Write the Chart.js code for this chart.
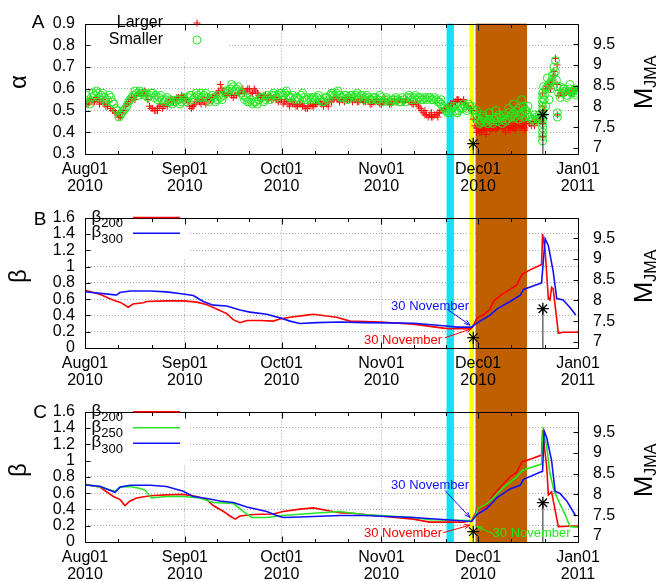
<!DOCTYPE html>
<html>
<head>
<meta charset="utf-8">
<script src="https://cdn.jsdelivr.net/npm/chart.js@4.4.1/dist/chart.umd.min.js"></script>
<style>
  body { margin: 0; background: #fff; }
  canvas { position: absolute; left: 0; }
</style>
</head>
<body>
<canvas id="chartA" width="664" height="194" style="top:0"></canvas>
<canvas id="chartB" width="664" height="194" style="top:194px"></canvas>
<canvas id="chartC" width="664" height="193" style="top:388px"></canvas>
<script>
// x values are days since 2010-08-01
const monthDays = [0, 31, 61, 92, 122, 153];
const monthLabels = [['Aug01', '2010'], ['Sep01', '2010'], ['Oct01', '2010'], ['Nov01', '2010'], ['Dec01', '2010'], ['Jan01', '2011']];
const minorDays = [10.3, 20.7, 41, 51, 71.3, 81.7, 102, 112, 132.3, 142.7];
const alphaTicks = [0.3, 0.4, 0.5, 0.6, 0.7, 0.8, 0.9];
const betaTicks = [0, 0.2, 0.4, 0.6, 0.8, 1, 1.2, 1.4, 1.6];
const mTicks = [7, 7.5, 8, 8.5, 9, 9.5];

// shaded periods
const bandStart = [112.2, 119.3, 121.2];
const bandEnd = [114.5, 120.7, 137.2];

// earthquakes (M_JMA)
const quakeDays = [120.5, 142.1];
const quakeMag = [7.1, 7.8];

// panel A: alpha, one value per day (index = day)
const alphaLarger = [
  0.54, 0.53, 0.55, 0.54, 0.55, 0.54, 0.53, 0.52, 0.51, 0.50,
  0.48, 0.47, 0.50, 0.53, 0.55, 0.56, 0.57, 0.58, 0.58, 0.57,
  0.52, 0.51, 0.50, 0.52, 0.51, 0.53, 0.54, 0.55, 0.55, 0.56,
  0.57, 0.56, 0.54, 0.51, 0.53, 0.55, 0.53, 0.54, 0.56, 0.55,
  0.56, 0.58, 0.62, 0.58, 0.57, 0.58, 0.56, 0.57, 0.58, 0.60,
  0.59, 0.60, 0.58, 0.59, 0.57, 0.56, 0.57, 0.56, 0.55, 0.56,
  0.54, 0.55, 0.54, 0.53, 0.54, 0.53, 0.52, 0.53, 0.52, 0.51,
  0.53, 0.52, 0.53, 0.54, 0.52, 0.53, 0.55, 0.55, 0.56, 0.54,
  0.55, 0.56, 0.55, 0.54, 0.55, 0.54, 0.55, 0.54, 0.55, 0.53,
  0.54, 0.54, 0.53, 0.55, 0.54, 0.53, 0.55, 0.54, 0.55, 0.54,
  0.55, 0.54, 0.53, 0.53, 0.51, 0.49, 0.48, 0.48, 0.47, 0.48,
  0.49, 0.50, 0.51, 0.52, 0.53, 0.54, 0.55, 0.54, 0.53, 0.52,
  0.50, 0.43, 0.41, 0.40, 0.42, 0.43, 0.41, 0.43, 0.42, 0.43,
  0.42, 0.44, 0.41, 0.42, 0.43, 0.42, 0.43, 0.44, 0.44, 0.45,
  0.45, 0.46, 0.48, 0.60, 0.62, 0.64, 0.74, 0.57, 0.58, 0.58,
  0.59, 0.58, 0.59, 0.60
];
// alpha at half days (index i = day i + 0.5)
const alphaLargerHalf = [
  0.53, 0.55, 0.54, 0.56, 0.53, 0.55, 0.52, 0.54, 0.50, 0.49,
  0.47, 0.49, 0.52, 0.54, 0.56, 0.55, 0.58, 0.57, 0.59, 0.55,
  0.51, 0.50, 0.51, 0.53, 0.52, 0.52, 0.55, 0.54, 0.56, 0.55,
  0.56, 0.55, 0.52, 0.52, 0.54, 0.54, 0.55, 0.53, 0.55, 0.56,
  0.57, 0.59, 0.59, 0.57, 0.58, 0.57, 0.57, 0.58, 0.59, 0.58,
  0.60, 0.58, 0.60, 0.58, 0.56, 0.57, 0.55, 0.57, 0.56, 0.55,
  0.55, 0.53, 0.55, 0.52, 0.53, 0.52, 0.53, 0.52, 0.51, 0.52,
  0.52, 0.53, 0.54, 0.53, 0.54, 0.52, 0.54, 0.56, 0.55, 0.55,
  0.54, 0.55, 0.56, 0.55, 0.54, 0.55, 0.54, 0.55, 0.53, 0.54,
  0.55, 0.53, 0.54, 0.54, 0.53, 0.54, 0.54, 0.55, 0.54, 0.55,
  0.54, 0.53, 0.54, 0.52, 0.50, 0.48, 0.47, 0.49, 0.48, 0.47,
  0.50, 0.51, 0.52, 0.53, 0.54, 0.55, 0.54, 0.55, 0.52, 0.51,
  0.46, 0.42, 0.40, 0.41, 0.41, 0.42, 0.42, 0.41, 0.43, 0.42,
  0.43, 0.42, 0.43, 0.41, 0.44, 0.43, 0.42, 0.45, 0.43, 0.44,
  0.46, 0.45, 0.50, 0.61, 0.63, 0.68, 0.62, 0.58, 0.57, 0.59,
  0.58, 0.60, 0.59
];
const alphaSmaller = [
  0.55, 0.54, 0.56, 0.57, 0.58, 0.57, 0.56, 0.55, 0.56, 0.53,
  0.50, 0.48, 0.50, 0.52, 0.55, 0.57, 0.58, 0.59, 0.58, 0.58,
  0.57, 0.58, 0.57, 0.56, 0.55, 0.55, 0.54, 0.53, 0.54, 0.55,
  0.54, 0.55, 0.56, 0.57, 0.56, 0.57, 0.58, 0.57, 0.56, 0.55,
  0.56, 0.55, 0.56, 0.57, 0.58, 0.60, 0.61, 0.60, 0.59, 0.57,
  0.56, 0.54, 0.53, 0.54, 0.55, 0.56, 0.55, 0.56, 0.57, 0.57,
  0.57, 0.58, 0.58, 0.57, 0.56, 0.55, 0.56, 0.57, 0.56, 0.55,
  0.55, 0.56, 0.56, 0.55, 0.54, 0.56, 0.57, 0.58, 0.58, 0.57,
  0.56, 0.57, 0.56, 0.57, 0.57, 0.56, 0.57, 0.56, 0.56, 0.55,
  0.56, 0.55, 0.56, 0.55, 0.55, 0.54, 0.55, 0.55, 0.54, 0.55,
  0.56, 0.56, 0.56, 0.55, 0.56, 0.55, 0.55, 0.56, 0.55, 0.55,
  0.54, 0.52, 0.50, 0.49, 0.51, 0.50, 0.50, 0.51, 0.52, 0.53,
  0.52, 0.47, 0.46, 0.45, 0.46, 0.44, 0.45, 0.46, 0.45, 0.47,
  0.48, 0.46, 0.47, 0.49, 0.50, 0.48, 0.52, 0.50, 0.47, 0.46,
  0.47, 0.48, 0.50, 0.60, 0.62, 0.64, 0.73, 0.58, 0.58, 0.59,
  0.59, 0.58, 0.60, 0.59
];
const alphaSmallerHalf = [
  0.57, 0.53, 0.58, 0.59, 0.56, 0.58, 0.54, 0.57, 0.54, 0.51,
  0.47, 0.49, 0.51, 0.54, 0.56, 0.59, 0.57, 0.58, 0.57, 0.56,
  0.58, 0.56, 0.55, 0.57, 0.54, 0.56, 0.55, 0.54, 0.55, 0.53,
  0.56, 0.54, 0.57, 0.55, 0.58, 0.56, 0.56, 0.58, 0.54, 0.57,
  0.54, 0.57, 0.55, 0.59, 0.59, 0.62, 0.59, 0.61, 0.58, 0.55,
  0.54, 0.55, 0.54, 0.53, 0.56, 0.54, 0.57, 0.55, 0.58, 0.56,
  0.58, 0.57, 0.59, 0.56, 0.57, 0.56, 0.55, 0.58, 0.55, 0.56,
  0.56, 0.55, 0.57, 0.54, 0.56, 0.55, 0.58, 0.57, 0.59, 0.56,
  0.57, 0.55, 0.57, 0.56, 0.58, 0.57, 0.55, 0.57, 0.55, 0.56,
  0.55, 0.57, 0.54, 0.56, 0.54, 0.55, 0.56, 0.54, 0.56, 0.54,
  0.57, 0.55, 0.57, 0.56, 0.55, 0.56, 0.56, 0.55, 0.56, 0.54,
  0.53, 0.51, 0.49, 0.50, 0.52, 0.49, 0.51, 0.53, 0.51, 0.52,
  0.50, 0.48, 0.44, 0.47, 0.45, 0.46, 0.44, 0.47, 0.48, 0.46,
  0.45, 0.49, 0.48, 0.47, 0.51, 0.49, 0.50, 0.48, 0.46, 0.48,
  0.46, 0.47, 0.55, 0.61, 0.60, 0.67, 0.61, 0.56, 0.60, 0.57,
  0.60, 0.59, 0.58
];
// extra scattered alpha points
const largerExtraDays = [22.5, 33.5, 42.5, 105.5, 107.5, 109.5, 113.5, 115.5, 121.5, 124.5, 127.5, 130.5, 133.5, 136.5, 139.5,
  142, 142, 142, 142, 144.5, 145.5, 146.5, 146.6];
const largerExtraAlpha = [0.50, 0.52, 0.60, 0.50, 0.47, 0.49, 0.53, 0.55, 0.40, 0.39, 0.44, 0.40, 0.44, 0.41, 0.43,
  0.38, 0.44, 0.52, 0.58, 0.60, 0.66, 0.71, 0.48];
const smallerExtraDays = [110.5, 112.5, 113.5, 115.5, 116.5, 118.5, 121.5, 123.5, 125.5, 127.5, 129.5, 131.5, 133, 134.5,
  135.5, 136.5, 137.5, 139.5, 142, 142, 142, 142, 142, 142, 142, 142, 142, 142, 142, 142.3, 142.6, 143, 143.5, 144,
  144.5, 145, 145.5, 146, 146.3, 146.6, 146.6, 147.5, 148.5, 149.5, 150.5, 151.5, 152.5];
const smallerExtraAlpha = [0.55, 0.51, 0.52, 0.49, 0.52, 0.50, 0.50, 0.48, 0.49, 0.50, 0.44, 0.51, 0.53, 0.46,
  0.55, 0.47, 0.52, 0.45, 0.36, 0.38, 0.40, 0.42, 0.44, 0.46, 0.48, 0.52, 0.54, 0.56, 0.58, 0.61, 0.57, 0.52, 0.65, 0.55,
  0.63, 0.66, 0.70, 0.68, 0.64, 0.49, 0.47, 0.61, 0.60, 0.56, 0.62, 0.59, 0.57];

// panel B
const b200Days = [0, 4.6, 7.4, 9.3, 11, 13.4, 14.9, 18.1, 19.1, 25.3, 30.5, 34.7, 37.7, 40.8, 44, 46, 48.1, 50.2, 54.3, 58.4,
  60.5, 63.6, 68.8, 70.9, 75, 78.1, 82.2, 91.6, 101.9, 111.2, 113.3, 119.5, 120.3, 121.6, 123.6, 125.7, 126.7, 128.8,
  131.9, 134, 135.6, 138.1, 141.2, 141.7, 142, 142.8, 143.8, 144.3, 144.8, 145.3, 146.9, 148.4, 153];
const b200 = [0.71, 0.66, 0.61, 0.58, 0.56, 0.50, 0.54, 0.555, 0.57, 0.578, 0.578, 0.563, 0.533, 0.478, 0.422, 0.348, 0.311,
  0.337, 0.337, 0.33, 0.356, 0.378, 0.404, 0.415, 0.393, 0.378, 0.33, 0.319, 0.293, 0.244, 0.237, 0.237, 0.256, 0.367,
  0.404, 0.478, 0.57, 0.644, 0.719, 0.774, 0.904, 0.959, 1.015, 1.026, 1.40, 1.2, 0.607, 0.59, 0.744, 0.726, 0.181, 0.193,
  0.193];
const b300Days = [0, 9.3, 9.8, 10.8, 14, 20.2, 25.3, 30.5, 33.6, 36.7, 39.8, 44, 48.1, 51.2, 56.4, 60.5, 63.6, 66.7, 71.9,
  79.1, 86.4, 101.9, 111.2, 115.4, 120, 120.5, 122.6, 125.7, 127.8, 131.9, 135, 136.1, 141.2, 141.7, 142.8, 143.8, 145.3,
  146.4, 148.4, 150.5, 152.3];
const b300 = [0.69, 0.652, 0.65, 0.681, 0.70, 0.70, 0.689, 0.663, 0.644, 0.57, 0.526, 0.515, 0.467, 0.44, 0.415, 0.37, 0.33,
  0.30, 0.311, 0.319, 0.311, 0.304, 0.274, 0.256, 0.256, 0.274, 0.33, 0.404, 0.478, 0.57, 0.644, 0.719, 0.793, 0.80, 1.341,
  1.256, 0.941, 0.607, 0.59, 0.496, 0.404];

// panel C
const c200Days = [0, 4.6, 8.8, 10.9, 12.4, 14, 16, 20.2, 25.3, 30.5, 34.7, 37.8, 39.8, 43, 45, 46.6, 48.1, 52.2, 58.4, 61.5,
  66.7, 70.9, 76, 79.1, 82.2, 91.6, 101.9, 107, 117.4, 120, 121.6, 124.7, 126.7, 128.8, 131.9, 134, 135.6, 138.1, 141.7,
  142, 143.3, 143.8, 144.8, 146.9, 152.3, 153];
const c200 = [0.707, 0.674, 0.559, 0.52, 0.448, 0.504, 0.541, 0.567, 0.578, 0.585, 0.559, 0.52, 0.448, 0.374, 0.319, 0.281,
  0.319, 0.337, 0.344, 0.374, 0.404, 0.419, 0.38, 0.36, 0.355, 0.319, 0.281, 0.244, 0.244, 0.263, 0.389, 0.444, 0.578, 0.67,
  0.8, 0.856, 0.985, 1.015, 1.067, 1.374, 0.911, 0.578, 0.615, 0.189, 0.196, 0.196];
const c250Days = [0, 4.6, 9.3, 10.9, 14, 17.1, 18.6, 20.6, 25.3, 30.5, 35.7, 39.8, 46, 49.2, 51.8, 56.4, 61.5, 71.9, 79.1,
  86.4, 101.9, 107, 120, 120.5, 122.1, 124.7, 126.7, 129.8, 134, 135.6, 138.1, 141.7, 142.2, 143.3, 144.3, 145.6, 147.4,
  149, 150.5, 153];
const c250 = [0.707, 0.674, 0.622, 0.674, 0.681, 0.656, 0.637, 0.541, 0.559, 0.559, 0.541, 0.485, 0.474, 0.374, 0.30, 0.30,
  0.326, 0.356, 0.374, 0.337, 0.30, 0.274, 0.263, 0.281, 0.411, 0.467, 0.541, 0.67, 0.8, 0.874, 0.911, 0.956, 1.363, 1.17,
  0.837, 0.622, 0.467, 0.337, 0.189, 0.178];
const c300Days = [0, 4.6, 9.3, 10.9, 14, 20.2, 25.3, 30.5, 33.6, 37.8, 41.9, 46, 50.2, 56.4, 59.5, 61.5, 66.7, 79.1, 86.4,
  101.9, 112.2, 120, 121.6, 124.7, 127.8, 131.9, 135, 136.1, 141.2, 142, 142.5, 143.3, 144.8, 145.9, 147.4, 149.5, 152.3];
const c300 = [0.70, 0.685, 0.611, 0.674, 0.696, 0.696, 0.681, 0.622, 0.559, 0.533, 0.504, 0.485, 0.43, 0.374, 0.326, 0.30,
  0.307, 0.326, 0.326, 0.30, 0.274, 0.252, 0.337, 0.411, 0.541, 0.652, 0.696, 0.77, 0.856, 0.867, 1.363, 1.281, 1.0, 0.622,
  0.596, 0.504, 0.319];

const FONT = '"Liberation Sans", Arial, Helvetica, sans-serif';
const M_MIN = 6.85, M_MAX = 10;
const bandColors = ['#12e2f2', '#ffff00', '#bf5f00'];
const RED = '#ff0000', GREEN = '#22e822', BLUE = '#1010ff';

function pts(xs, ys) {
  return xs.map((x, i) => ({ x: x, y: ys[i] }));
}
function daily(vals, offset) {
  return vals.map((v, i) => ({ x: i + offset, y: v }));
}

function quakeSets() {
  const imp = [];
  quakeDays.forEach((d, i) => {
    imp.push({ x: d, y: M_MIN }, { x: d, y: quakeMag[i] }, { x: d, y: null });
  });
  return [
    { data: pts(quakeDays, quakeMag), yAxisID: 'y1', pointStyle: 'star', pointRadius: 6,
      borderColor: '#000', pointBorderColor: '#000', pointBorderWidth: 1.3, order: 0 },
    { data: imp, yAxisID: 'y1', showLine: true, spanGaps: false, pointRadius: 0,
      borderColor: '#222', borderWidth: 1, order: 0 }
  ];
}

function lineSet(xs, ys, color, order) {
  return { data: pts(xs, ys), yAxisID: 'y', showLine: true, pointRadius: 0, borderColor: color,
    borderWidth: 1.6, fill: false, tension: 0, order: order };
}

function drawArrow(ctx, x0, y0, x1, y1, color) {
  const ang = Math.atan2(y1 - y0, x1 - x0), h = 6;
  ctx.strokeStyle = color;
  ctx.lineWidth = 1;
  ctx.beginPath();
  ctx.moveTo(x0, y0);
  ctx.lineTo(x1, y1);
  ctx.moveTo(x1 - h * Math.cos(ang - 0.35), y1 - h * Math.sin(ang - 0.35));
  ctx.lineTo(x1, y1);
  ctx.lineTo(x1 - h * Math.cos(ang + 0.35), y1 - h * Math.sin(ang + 0.35));
  ctx.stroke();
}

const panelDecor = {
  id: 'panelDecor',
  beforeDatasetsDraw(chart, args, o) {
    const { ctx, chartArea: a, scales: { x } } = chart;
    const top = o.bandFrom === 'area' ? a.top : 0;
    const bottom = o.bandTo === 'area' ? a.bottom : chart.height;
    ctx.save();
    bandStart.forEach((s, i) => {
      const x0 = x.getPixelForValue(s), x1 = x.getPixelForValue(bandEnd[i]);
      ctx.fillStyle = bandColors[i];
      ctx.fillRect(x0, top, x1 - x0, bottom - top);
    });
    ctx.fillStyle = '#fff';
    ctx.fillRect(a.left + 1, a.top + 1, o.keyBox[0], o.keyBox[1]);
    ctx.restore();
  },
  afterDraw(chart, args, o) {
    const { ctx, chartArea: a, scales: { x, y, y1 } } = chart;
    const L = Math.round(a.left) + 0.5, R = Math.round(a.right) + 0.5;
    const T = Math.round(a.top) + 0.5, B = Math.round(a.bottom) + 0.5;
    ctx.save();
    // frame and inward tics
    ctx.strokeStyle = '#000';
    ctx.lineWidth = 1;
    ctx.beginPath();
    monthDays.forEach(d => {
      const px = Math.round(x.getPixelForValue(d)) + 0.5;
      ctx.moveTo(px, B); ctx.lineTo(px, B - 6);
      ctx.moveTo(px, T); ctx.lineTo(px, T + 6);
    });
    minorDays.forEach(d => {
      const px = Math.round(x.getPixelForValue(d)) + 0.5;
      ctx.moveTo(px, B); ctx.lineTo(px, B - 3.5);
      ctx.moveTo(px, T); ctx.lineTo(px, T + 3.5);
    });
    o.yTicks.forEach(v => {
      const py = Math.round(y.getPixelForValue(v)) + 0.5;
      ctx.moveTo(L, py); ctx.lineTo(L + 5, py);
    });
    mTicks.forEach(v => {
      const py = Math.round(y1.getPixelForValue(v)) + 0.5;
      ctx.moveTo(R, py); ctx.lineTo(R - 5, py);
    });
    ctx.rect(L, T, R - L, B - T);
    ctx.stroke();

    ctx.fillStyle = '#000';
    ctx.textAlign = 'center';
    ctx.textBaseline = 'middle';
    // panel letter
    ctx.font = '19px ' + FONT;
    ctx.fillText(o.letter, o.letterPos[0], o.letterPos[1]);
    // left axis title
    ctx.save();
    ctx.translate(19, 82);
    ctx.rotate(-Math.PI / 2);
    ctx.font = '24px ' + FONT;
    ctx.fillText(o.yTitle, 0, 0);
    ctx.restore();
    // right axis title M_JMA
    ctx.save();
    ctx.translate(652, 82.5);
    ctx.rotate(-Math.PI / 2);
    ctx.textAlign = 'left';
    ctx.textBaseline = 'alphabetic';
    ctx.font = '26px ' + FONT;
    const wM = ctx.measureText('M').width;
    ctx.font = '16px ' + FONT;
    const wS = ctx.measureText('JMA').width;
    const s0 = -(wM + wS) / 2;
    ctx.font = '26px ' + FONT;
    ctx.fillText('M', s0, 0);
    ctx.font = '16px ' + FONT;
    ctx.fillText('JMA', s0 + wM, 4);
    ctx.restore();

    // key
    o.key.forEach(k => {
      ctx.fillStyle = '#000';
      if (k.sub) {
        ctx.font = '17px ' + FONT;
        const wb = ctx.measureText(k.label).width;
        ctx.font = '13px ' + FONT;
        const ws = ctx.measureText(k.sub).width;
        ctx.textAlign = 'left';
        ctx.textBaseline = 'alphabetic';
        const xs = o.keyTextRight - wb - ws;
        ctx.font = '17px ' + FONT;
        ctx.fillText(k.label, xs, k.y + 4);
        ctx.font = '13px ' + FONT;
        ctx.fillText(k.sub, xs + wb, k.y + 9.5);
      } else {
        ctx.font = '16px ' + FONT;
        ctx.textAlign = 'right';
        ctx.textBaseline = 'middle';
        ctx.fillText(k.label, o.keyTextRight, k.y);
      }
      ctx.strokeStyle = k.color;
      ctx.beginPath();
      if (k.kind === 'line') {
        ctx.lineWidth = 1.6;
        ctx.moveTo(o.keyMark[0], k.y);
        ctx.lineTo(o.keyMark[1], k.y);
      } else if (k.kind === 'cross') {
        ctx.lineWidth = 1;
        ctx.moveTo(o.keyMark[0] - 3.5, k.y); ctx.lineTo(o.keyMark[0] + 3.5, k.y);
        ctx.moveTo(o.keyMark[0], k.y - 3.5); ctx.lineTo(o.keyMark[0], k.y + 3.5);
      } else {
        ctx.lineWidth = 1;
        ctx.arc(o.keyMark[0], k.y, 4, 0, Math.PI * 2);
      }
      ctx.stroke();
    });

    // "30 November" labels
    ctx.font = '13px ' + FONT;
    ctx.textAlign = 'center';
    ctx.textBaseline = 'middle';
    o.notes.forEach(n => {
      ctx.fillStyle = n.color;
      ctx.fillText(n.text, x.getPixelForValue(n.at[0]), y.getPixelForValue(n.at[1]));
      drawArrow(ctx, x.getPixelForValue(n.from[0]), y.getPixelForValue(n.from[1]),
        x.getPixelForValue(n.to[0]), y.getPixelForValue(n.to[1]), n.color);
    });
    ctx.restore();
  }
};

function makeChart(id, datasets, yMin, yMax, yTicks, deco) {
  const canvas = document.getElementById(id);
  const h = canvas.height;
  const edge = (c, lo, hi) => (c.tick && (Math.abs(c.tick.value - lo) < 1e-9 || Math.abs(c.tick.value - hi) < 1e-9))
    ? 'rgba(0,0,0,0)' : '#a8a8a8';
  const tickFont = { family: FONT, size: 16, lineHeight: 1.08 };
  deco.yTicks = yTicks;
  return new Chart(canvas, {
    type: 'scatter',
    data: { datasets: datasets },
    options: {
      responsive: false,
      animation: false,
      events: [],
      layout: { padding: { top: 10, left: 0, right: 0, bottom: 0 } },
      scales: {
        x: {
          type: 'linear', min: 0, max: 153,
          afterBuildTicks: s => { s.ticks = monthDays.map(v => ({ value: v })); },
          afterFit: s => { s.height = h - 154; },
          ticks: { callback: (v, i) => monthLabels[i], color: '#000', font: tickFont, padding: 7,
            maxRotation: 0, autoSkip: false, z: 1 },
          grid: { drawTicks: false, lineWidth: 1, color: c => edge(c, 0, 153) },
          border: { display: false, dash: [1, 2] }
        },
        y: {
          type: 'linear', position: 'left', min: yMin, max: yMax,
          afterBuildTicks: s => { s.ticks = yTicks.map(v => ({ value: v })); },
          afterFit: s => { s.width = 85; },
          ticks: { callback: v => String(+v.toFixed(2)), color: '#000', font: tickFont, padding: 10, autoSkip: false },
          grid: { drawTicks: false, lineWidth: 1, color: c => edge(c, yMin, yMax) },
          border: { display: false, dash: [1, 2] }
        },
        y1: {
          type: 'linear', position: 'right', min: M_MIN, max: M_MAX,
          afterBuildTicks: s => { s.ticks = mTicks.map(v => ({ value: v })); },
          afterFit: s => { s.width = 86; },
          ticks: { callback: v => String(v), color: '#000', font: tickFont, padding: 15, autoSkip: false },
          grid: { drawOnChartArea: false, drawTicks: false },
          border: { display: false }
        }
      },
      plugins: {
        legend: { display: false },
        tooltip: { enabled: false },
        panelDecor: deco
      }
    },
    plugins: [panelDecor]
  });
}

// Panel A
makeChart('chartA', [
  ...quakeSets(),
  { data: pts(smallerExtraDays, smallerExtraAlpha).concat(daily(alphaSmaller, 0), daily(alphaSmallerHalf, 0.5)),
    yAxisID: 'y', pointStyle: 'circle', pointRadius: 4, borderColor: GREEN, pointBorderColor: GREEN,
    backgroundColor: 'rgba(0,0,0,0)', pointBackgroundColor: 'rgba(0,0,0,0)', pointBorderWidth: 1, order: 1 },
  { data: pts(largerExtraDays, largerExtraAlpha).concat(daily(alphaLarger, 0), daily(alphaLargerHalf, 0.5)),
    yAxisID: 'y', pointStyle: 'cross', pointRadius: 3.5, borderColor: RED, pointBorderColor: RED,
    pointBorderWidth: 1, order: 2 }
], 0.3, 0.9, alphaTicks, {
  letter: 'A', letterPos: [38, 23], yTitle: '\u03b1', bandFrom: 'area', bandTo: 'canvas',
  keyBox: [142, 37], keyTextRight: 163, keyMark: [197],
  key: [
    { label: 'Larger', kind: 'cross', color: RED, y: 23 },
    { label: 'Smaller', kind: 'circle', color: GREEN, y: 40 }
  ],
  notes: []
});

// Panel B
makeChart('chartB', [
  ...quakeSets(),
  lineSet(b300Days, b300, BLUE, 1),
  lineSet(b200Days, b200, RED, 2)
], 0, 1.6, betaTicks, {
  letter: 'B', letterPos: [40, 26], yTitle: '\u03b2', bandFrom: 'canvas', bandTo: 'canvas',
  keyBox: [102, 40], keyTextRight: 123, keyMark: [133, 180],
  key: [
    { label: '\u03b2', sub: '200', kind: 'line', color: RED, y: 23.5 },
    { label: '\u03b2', sub: '300', kind: 'line', color: BLUE, y: 39.3 }
  ],
  notes: [
    { text: '30 November', color: BLUE, at: [107.1, 0.511], from: [112.3, 0.478], to: [119.5, 0.281] },
    { text: '30 November', color: RED, at: [98.7, 0.089], from: [111.7, 0.126], to: [120, 0.237] }
  ]
});

// Panel C
makeChart('chartC', [
  ...quakeSets(),
  lineSet(c300Days, c300, BLUE, 1),
  lineSet(c250Days, c250, GREEN, 2),
  lineSet(c200Days, c200, RED, 3)
], 0, 1.6, betaTicks, {
  letter: 'C', letterPos: [40, 25], yTitle: '\u03b2', bandFrom: 'canvas', bandTo: 'area',
  keyBox: [104, 52], keyTextRight: 123, keyMark: [133, 180],
  key: [
    { label: '\u03b2', sub: '200', kind: 'line', color: RED, y: 23.7 },
    { label: '\u03b2', sub: '250', kind: 'line', color: GREEN, y: 39.7 },
    { label: '\u03b2', sub: '300', kind: 'line', color: BLUE, y: 55.3 }
  ],
  notes: [
    { text: '30 November', color: BLUE, at: [107.1, 0.689], from: [111.7, 0.633], to: [119.5, 0.30] },
    { text: '30 November', color: RED, at: [98.7, 0.10], from: [111.2, 0.114], to: [119.5, 0.208] },
    { text: '30 November', color: GREEN, at: [138.6, 0.10], from: [126.7, 0.10], to: [121.6, 0.189] }
  ]
});
</script>
</body>
</html>
